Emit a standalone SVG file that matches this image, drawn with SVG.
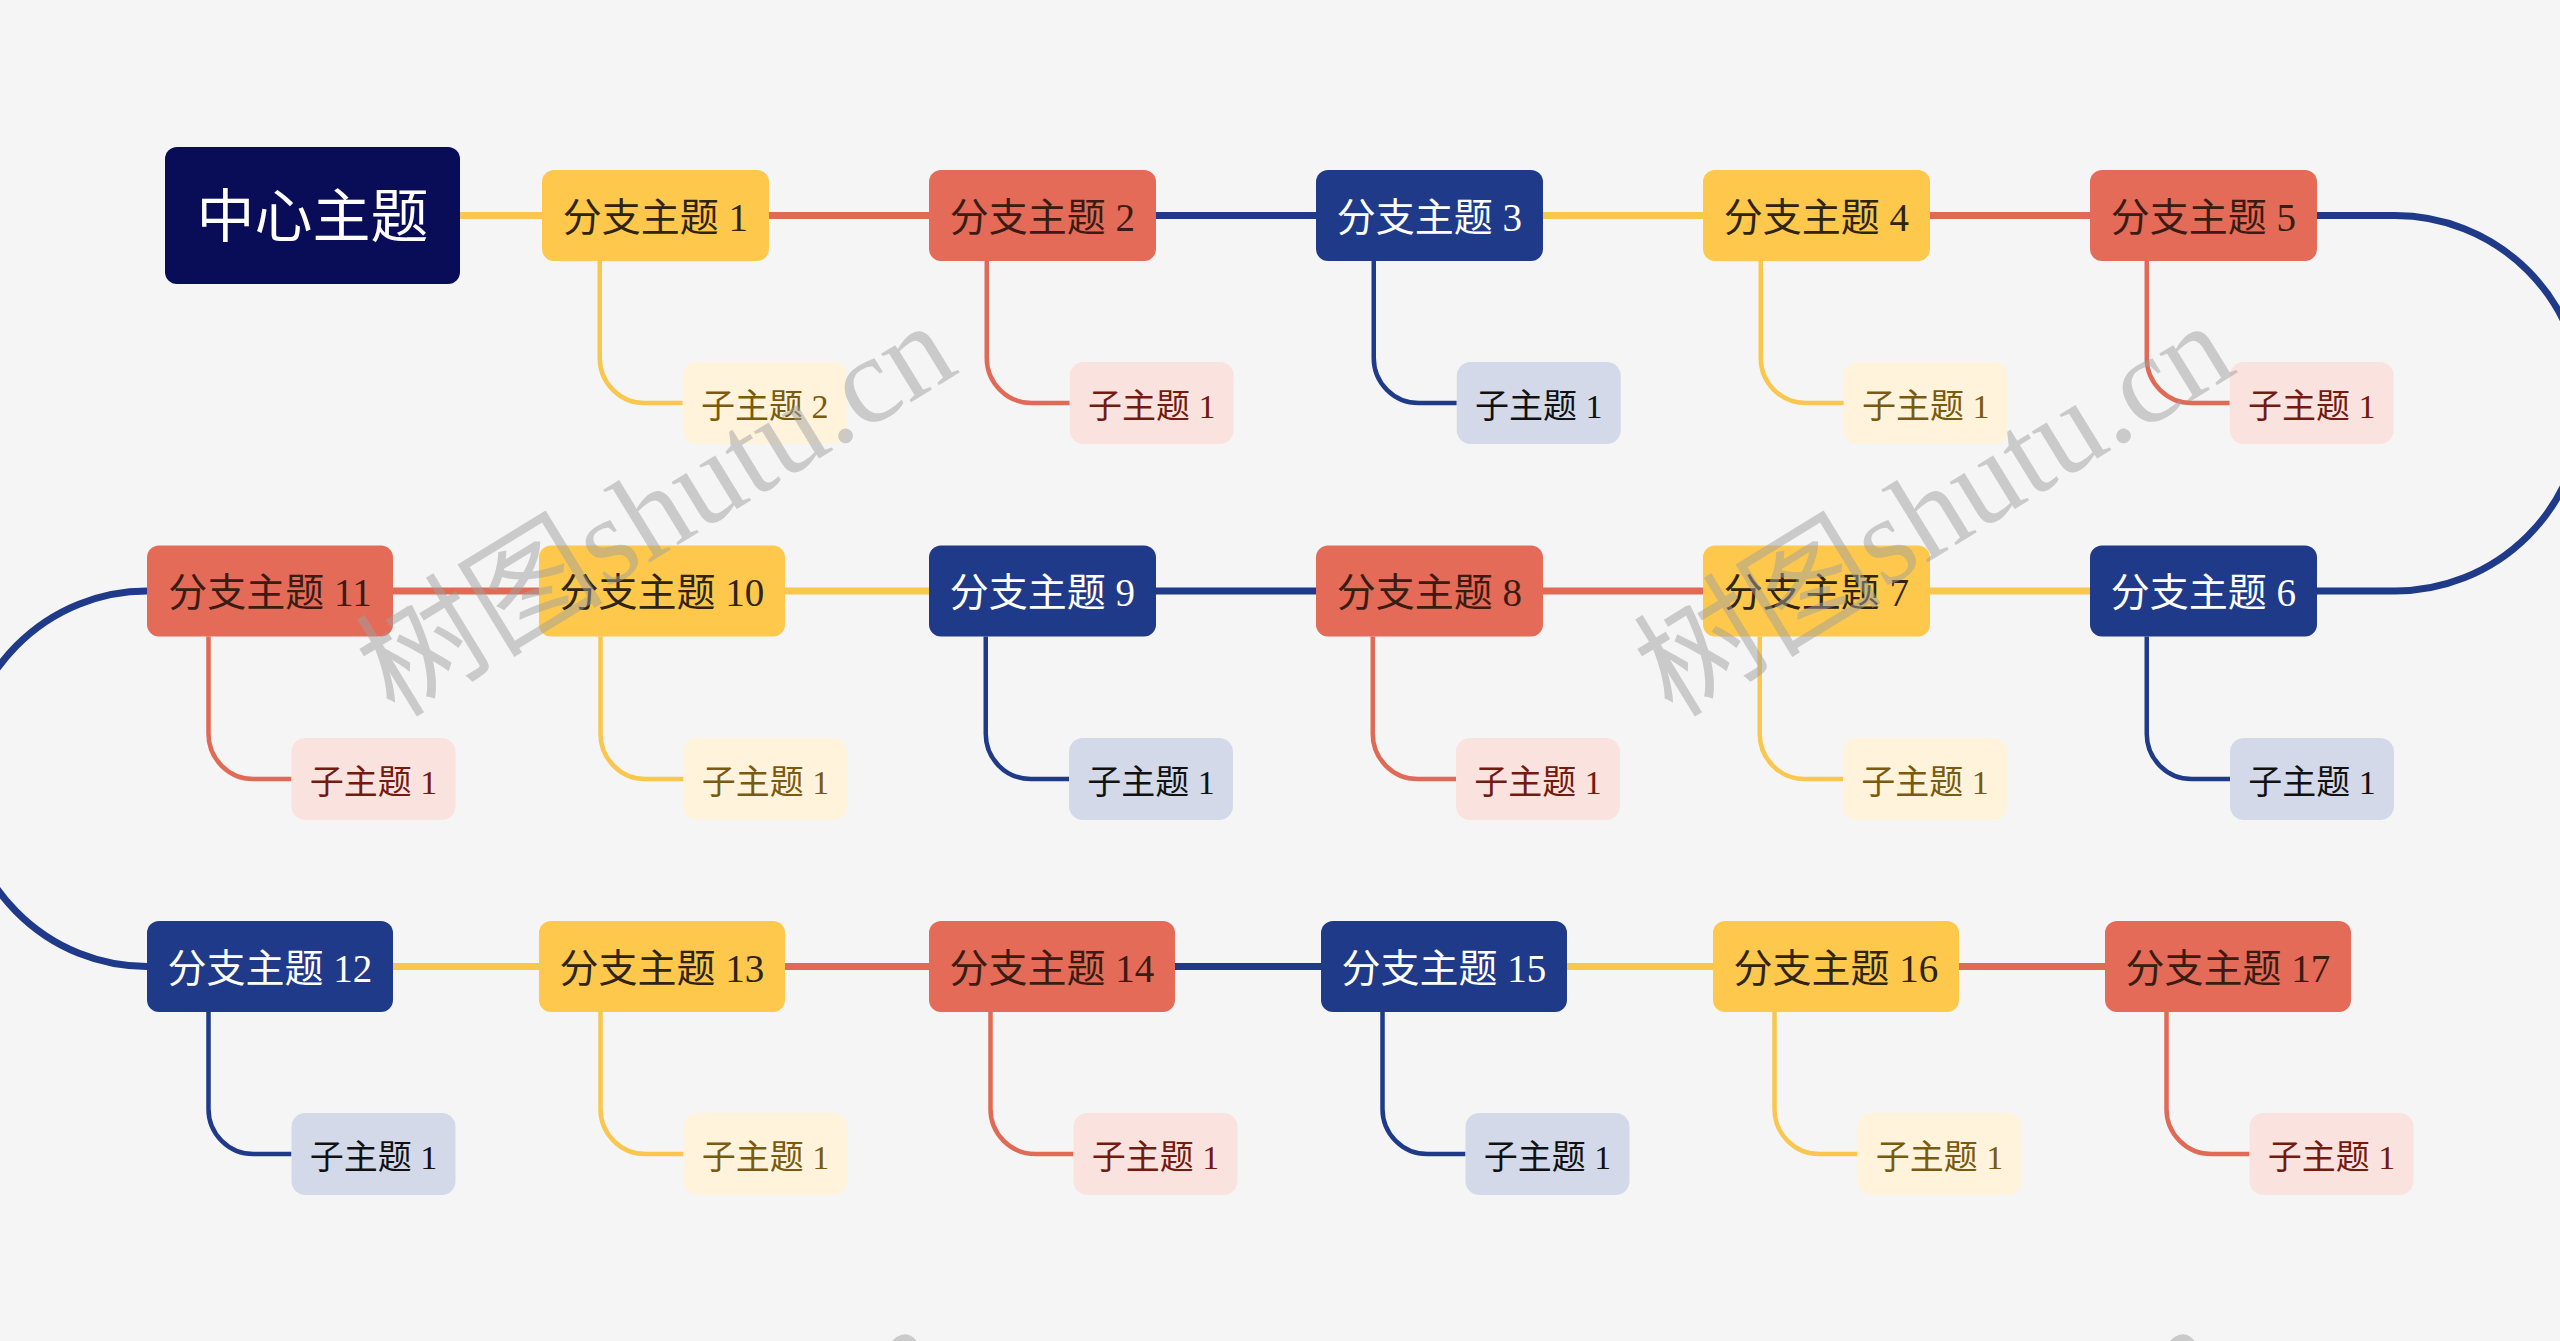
<svg xmlns="http://www.w3.org/2000/svg" width="2560" height="1341" viewBox="0 0 2560 1341">
<style>
.t{font-family:'Liberation Serif','Noto Sans CJK SC',serif;text-anchor:middle}
.bt{font-size:39px}
.st{font-size:34px}
.ct{font-family:'Noto Sans CJK SC',sans-serif;font-size:58px;fill:#FFFFFF;text-anchor:middle}
.fy{fill:#FDC84B}.fr{fill:#E46B57}.fb{fill:#1F3A88}
.ty{fill:#2E2410}.tr{fill:#3A1C14}.tb{fill:#FFFFFF}
.sfy{fill:#FFF4DB}.sfr{fill:#FAE3DE}.sfb{fill:#D3D9E8}
.sty{fill:#7A5A0E}.str{fill:#741A0E}.stb{fill:#111111}
#connectors path{fill:none}
.m{stroke-width:7}
.c{stroke-width:4.5}
.ly{stroke:#F9C64E}.lr{stroke:#E06A56}.lb{stroke:#1F3A88}
.wm{font-family:'Liberation Serif','Noto Sans CJK SC',serif;font-size:124px;fill:#A0A0A0;fill-opacity:0.5;text-anchor:middle}
</style>
<rect x="0" y="0" width="2560" height="1341" fill="#F5F5F5"/>
<g id="connectors">
<path class="m ly" d="M460 215.5H542"/>
<path class="m lr" d="M769 215.5H929"/>
<path class="m lb" d="M1156 215.5H1316"/>
<path class="m ly" d="M1543 215.5H1703"/>
<path class="m lr" d="M1930 215.5H2090"/>
<path class="m lb" d="M2317 215.5H2395A187.75 187.75 0 0 1 2395 591H2317"/>
<path class="m ly" d="M2090 591H1930"/>
<path class="m lr" d="M1703 591H1543"/>
<path class="m lb" d="M1316 591H1156"/>
<path class="m ly" d="M929 591H785"/>
<path class="m lr" d="M539 591H393"/>
<path class="m lb" d="M147 591A185 187.75 0 0 0 147 966.5"/>
<path class="m ly" d="M393 966.5H539"/>
<path class="m lr" d="M785 966.5H929"/>
<path class="m lb" d="M1175 966.5H1321"/>
<path class="m ly" d="M1567 966.5H1713"/>
<path class="m lr" d="M1959 966.5H2105"/>
<path class="c ly" d="M599.75 261V358A45 45 0 0 0 644.75 403H682.75"/>
<path class="c lr" d="M986.75 261V358A45 45 0 0 0 1031.75 403H1069.75"/>
<path class="c lb" d="M1373.75 261V358A45 45 0 0 0 1418.75 403H1456.75"/>
<path class="c ly" d="M1760.75 261V358A45 45 0 0 0 1805.75 403H1843.75"/>
<path class="c lr" d="M2146.75 261V358A45 45 0 0 0 2191.75 403H2229.75"/>
<path class="c lb" d="M2146.75 636.5V734A45 45 0 0 0 2191.75 779H2230"/>
<path class="c ly" d="M1759.75 636.5V734A45 45 0 0 0 1804.75 779H1843"/>
<path class="c lr" d="M1372.75 636.5V734A45 45 0 0 0 1417.75 779H1456"/>
<path class="c lb" d="M985.75 636.5V734A45 45 0 0 0 1030.75 779H1069"/>
<path class="c ly" d="M600.5 636.5V734A45 45 0 0 0 645.5 779H683.5"/>
<path class="c lr" d="M208.5 636.5V734A45 45 0 0 0 253.5 779H291.5"/>
<path class="c lb" d="M208.5 1012V1109A45 45 0 0 0 253.5 1154H291.5"/>
<path class="c ly" d="M600.5 1012V1109A45 45 0 0 0 645.5 1154H683.5"/>
<path class="c lr" d="M990.5 1012V1109A45 45 0 0 0 1035.5 1154H1073.5"/>
<path class="c lb" d="M1382.5 1012V1109A45 45 0 0 0 1427.5 1154H1465.5"/>
<path class="c ly" d="M1774.5 1012V1109A45 45 0 0 0 1819.5 1154H1857.5"/>
<path class="c lr" d="M2166.5 1012V1109A45 45 0 0 0 2211.5 1154H2249.5"/>
</g>
<g id="central"><rect x="165" y="147" width="295" height="137" rx="12" fill="#090D58"/><text class="ct" x="312.5" y="237">中心主题</text></g>
<g id="b1"><rect class="fy" x="542" y="170" width="227" height="91" rx="12"/><text class="t bt ty" x="655.5" y="230.5">分支主题 1</text></g>
<g id="b2"><rect class="fr" x="929" y="170" width="227" height="91" rx="12"/><text class="t bt tr" x="1042.5" y="230.5">分支主题 2</text></g>
<g id="b3"><rect class="fb" x="1316" y="170" width="227" height="91" rx="12"/><text class="t bt tb" x="1429.5" y="230.5">分支主题 3</text></g>
<g id="b4"><rect class="fy" x="1703" y="170" width="227" height="91" rx="12"/><text class="t bt ty" x="1816.5" y="230.5">分支主题 4</text></g>
<g id="b5"><rect class="fr" x="2090" y="170" width="227" height="91" rx="12"/><text class="t bt tr" x="2203.5" y="230.5">分支主题 5</text></g>
<g id="b6"><rect class="fb" x="2090" y="545.5" width="227" height="91" rx="12"/><text class="t bt tb" x="2203.5" y="606">分支主题 6</text></g>
<g id="b7"><rect class="fy" x="1703" y="545.5" width="227" height="91" rx="12"/><text class="t bt ty" x="1816.5" y="606">分支主题 7</text></g>
<g id="b8"><rect class="fr" x="1316" y="545.5" width="227" height="91" rx="12"/><text class="t bt tr" x="1429.5" y="606">分支主题 8</text></g>
<g id="b9"><rect class="fb" x="929" y="545.5" width="227" height="91" rx="12"/><text class="t bt tb" x="1042.5" y="606">分支主题 9</text></g>
<g id="b10"><rect class="fy" x="539" y="545.5" width="246" height="91" rx="12"/><text class="t bt ty" x="662" y="606">分支主题 10</text></g>
<g id="b11"><rect class="fr" x="147" y="545.5" width="246" height="91" rx="12"/><text class="t bt tr" x="270" y="606">分支主题 11</text></g>
<g id="b12"><rect class="fb" x="147" y="921" width="246" height="91" rx="12"/><text class="t bt tb" x="270" y="981.5">分支主题 12</text></g>
<g id="b13"><rect class="fy" x="539" y="921" width="246" height="91" rx="12"/><text class="t bt ty" x="662" y="981.5">分支主题 13</text></g>
<g id="b14"><rect class="fr" x="929" y="921" width="246" height="91" rx="12"/><text class="t bt tr" x="1052" y="981.5">分支主题 14</text></g>
<g id="b15"><rect class="fb" x="1321" y="921" width="246" height="91" rx="12"/><text class="t bt tb" x="1444" y="981.5">分支主题 15</text></g>
<g id="b16"><rect class="fy" x="1713" y="921" width="246" height="91" rx="12"/><text class="t bt ty" x="1836" y="981.5">分支主题 16</text></g>
<g id="b17"><rect class="fr" x="2105" y="921" width="246" height="91" rx="12"/><text class="t bt tr" x="2228" y="981.5">分支主题 17</text></g>
<g id="s1"><rect class="sfy" x="682.75" y="362" width="164" height="82" rx="14"/><text class="t st sty" x="764.75" y="418">子主题 2</text></g>
<g id="s2"><rect class="sfr" x="1069.75" y="362" width="164" height="82" rx="14"/><text class="t st str" x="1151.75" y="418">子主题 1</text></g>
<g id="s3"><rect class="sfb" x="1456.75" y="362" width="164" height="82" rx="14"/><text class="t st stb" x="1538.75" y="418">子主题 1</text></g>
<g id="s4"><rect class="sfy" x="1843.75" y="362" width="164" height="82" rx="14"/><text class="t st sty" x="1925.75" y="418">子主题 1</text></g>
<g id="s5"><rect class="sfr" x="2229.75" y="362" width="164" height="82" rx="14"/><text class="t st str" x="2311.75" y="418">子主题 1</text></g>
<g id="s6"><rect class="sfb" x="2230" y="738" width="164" height="82" rx="14"/><text class="t st stb" x="2312" y="794">子主题 1</text></g>
<g id="s7"><rect class="sfy" x="1843" y="738" width="164" height="82" rx="14"/><text class="t st sty" x="1925" y="794">子主题 1</text></g>
<g id="s8"><rect class="sfr" x="1456" y="738" width="164" height="82" rx="14"/><text class="t st str" x="1538" y="794">子主题 1</text></g>
<g id="s9"><rect class="sfb" x="1069" y="738" width="164" height="82" rx="14"/><text class="t st stb" x="1151" y="794">子主题 1</text></g>
<g id="s10"><rect class="sfy" x="683.5" y="738" width="164" height="82" rx="14"/><text class="t st sty" x="765.5" y="794">子主题 1</text></g>
<g id="s11"><rect class="sfr" x="291.5" y="738" width="164" height="82" rx="14"/><text class="t st str" x="373.5" y="794">子主题 1</text></g>
<g id="s12"><rect class="sfb" x="291.5" y="1113" width="164" height="82" rx="14"/><text class="t st stb" x="373.5" y="1169">子主题 1</text></g>
<g id="s13"><rect class="sfy" x="683.5" y="1113" width="164" height="82" rx="14"/><text class="t st sty" x="765.5" y="1169">子主题 1</text></g>
<g id="s14"><rect class="sfr" x="1073.5" y="1113" width="164" height="82" rx="14"/><text class="t st str" x="1155.5" y="1169">子主题 1</text></g>
<g id="s15"><rect class="sfb" x="1465.5" y="1113" width="164" height="82" rx="14"/><text class="t st stb" x="1547.5" y="1169">子主题 1</text></g>
<g id="s16"><rect class="sfy" x="1857.5" y="1113" width="164" height="82" rx="14"/><text class="t st sty" x="1939.5" y="1169">子主题 1</text></g>
<g id="s17"><rect class="sfr" x="2249.5" y="1113" width="164" height="82" rx="14"/><text class="t st str" x="2331.5" y="1169">子主题 1</text></g>
<g id="watermark">
<text class="wm" transform="translate(678 545) rotate(-31.5)">树图shutu.cn</text>
<text class="wm" transform="translate(1956 545) rotate(-31.5)">树图shutu.cn</text>
<text class="wm" transform="translate(664 1548) rotate(-31.5)">树图shutu.cn</text>
<text class="wm" transform="translate(1942 1548) rotate(-31.5)">树图shutu.cn</text>
</g>
</svg>
